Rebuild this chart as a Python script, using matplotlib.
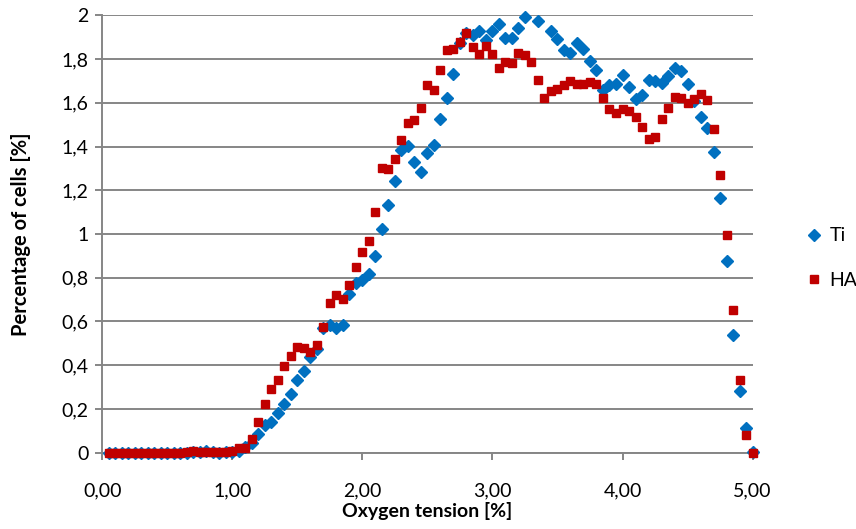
import numpy as np
import matplotlib.pyplot as plt
from matplotlib.ticker import FuncFormatter

# oxygen tension [%], sampled every 0.05
oxygen = [0.05, 0.10, 0.15, 0.20, 0.25, 0.30, 0.35, 0.40, 0.45, 0.50,
          0.55, 0.60, 0.65, 0.70, 0.75, 0.80, 0.85, 0.90, 0.95, 1.00,
          1.05, 1.10, 1.15, 1.20, 1.25, 1.30, 1.35, 1.40, 1.45, 1.50,
          1.55, 1.60, 1.65, 1.70, 1.75, 1.80, 1.85, 1.90, 1.95, 2.00,
          2.05, 2.10, 2.15, 2.20, 2.25, 2.30, 2.35, 2.40, 2.45, 2.50,
          2.55, 2.60, 2.65, 2.70, 2.75, 2.80, 2.85, 2.90, 2.95, 3.00,
          3.05, 3.10, 3.15, 3.20, 3.25, 3.30, 3.35, 3.40, 3.45, 3.50,
          3.55, 3.60, 3.65, 3.70, 3.75, 3.80, 3.85, 3.90, 3.95, 4.00,
          4.05, 4.10, 4.15, 4.20, 4.25, 4.30, 4.35, 4.40, 4.45, 4.50,
          4.55, 4.60, 4.65, 4.70, 4.75, 4.80, 4.85, 4.90, 4.95, 5.00]

# percentage of cells [%]  (Ti values above 2 are off the axis, as in the original)
ti = [0, 0, 0, 0, 0, 0, 0, 0, 0, 0,
      0, 0, 0, 0.003, 0.005, 0.01, 0.003, 0, 0.002, 0.005,
      0.01, 0.025, 0.043, 0.087, 0.125, 0.142, 0.18, 0.223, 0.27, 0.332,
      0.375, 0.436, 0.473, 0.572, 0.584, 0.569, 0.584, 0.727, 0.775, 0.79,
      0.819, 0.90, 1.023, 1.134, 1.241, 1.386, 1.403, 1.328, 1.284, 1.369,
      1.408, 1.526, 1.62, 1.73, 1.872, 1.92, 1.91, 1.927, 1.887, 1.927,
      1.962, 1.894, 1.895, 1.94, 1.991, 2.05, 1.974, 2.04, 1.928, 1.892,
      1.841, 1.829, 1.872, 1.846, 1.79, 1.75, 1.658, 1.68, 1.684, 1.727,
      1.671, 1.617, 1.636, 1.704, 1.701, 1.689, 1.724, 1.758, 1.745, 1.684,
      1.61, 1.533, 1.483, 1.376, 1.163, 0.878, 0.537, 0.284, 0.114, 0.005]

ha = [0, 0, 0, 0, 0, 0, 0, 0, 0, 0,
      0, 0, 0.005, 0.01, 0.005, 0.003, 0.003, 0.003, 0.005, 0.01,
      0.023, 0.023, 0.063, 0.14, 0.223, 0.291, 0.332, 0.396, 0.442, 0.483,
      0.479, 0.46, 0.492, 0.575, 0.685, 0.722, 0.703, 0.768, 0.849, 0.918,
      0.969, 1.102, 1.302, 1.296, 1.343, 1.43, 1.508, 1.521, 1.578, 1.683,
      1.658, 1.75, 1.843, 1.847, 1.878, 1.919, 1.855, 1.822, 1.86, 1.823,
      1.757, 1.788, 1.783, 1.829, 1.817, 1.785, 1.704, 1.62, 1.655, 1.664,
      1.68, 1.698, 1.687, 1.687, 1.696, 1.686, 1.62, 1.573, 1.553, 1.571,
      1.562, 1.535, 1.488, 1.433, 1.445, 1.524, 1.575, 1.625, 1.624, 1.598,
      1.617, 1.639, 1.611, 1.48, 1.271, 0.995, 0.654, 0.332, 0.079, 0]

plt.rcParams['font.family'] = ['Lato', 'DejaVu Sans']

fig = plt.figure(figsize=(8.56, 5.29), dpi=100)
ax = fig.add_axes([0.1197, 0.1442, 0.7594, 0.8269])

grid_col = '#868686'
y_max = 2

# like the spreadsheet, points above the axis maximum are simply not drawn
ti_shown = np.where(np.array(ti) > y_max, np.nan, ti)
ha_shown = np.where(np.array(ha) > y_max, np.nan, ha)

ax.plot(oxygen, ti_shown, linestyle='none', marker='D', markersize=6.2,
        color='#0070C0', label='Ti', zorder=3, clip_on=False)
ax.plot(oxygen, ha_shown, linestyle='none', marker='s', markersize=5.6,
        color='#C00000', label='HA', zorder=4, clip_on=False)

ax.set_xlim(0, 5)
ax.set_ylim(0, y_max)
ax.set_xticks([0, 1, 2, 3, 4, 5])
ax.set_yticks(np.arange(0, 2.01, 0.2))
ax.xaxis.set_major_formatter(FuncFormatter(lambda v, p: f'{v:.2f}'.replace('.', ',')))
ax.yaxis.set_major_formatter(FuncFormatter(lambda v, p: f'{v:.1f}'.rstrip('0').rstrip('.').replace('.', ',')))

ax.grid(axis='y', color=grid_col, linewidth=1.4, zorder=0)
ax.set_axisbelow(True)
for side in ['top', 'right']:
    ax.spines[side].set_visible(False)
for side in ['left', 'bottom']:
    ax.spines[side].set_color(grid_col)
    ax.spines[side].set_linewidth(1.4)

ax.tick_params(axis='x', length=5, width=1.4, color=grid_col, pad=16, labelsize=14)
ax.tick_params(axis='y', length=5, width=1.4, color=grid_col, pad=5, labelsize=14)

ax.set_xlabel('Oxygen tension [%]', fontsize=14, fontweight='bold', labelpad=2)
ax.set_ylabel('Percentage of cells [%]', fontsize=14.5, fontweight='bold', labelpad=22)

ax.legend(loc='center left', bbox_to_anchor=(1.05, 0.445), frameon=False,
          fontsize=14, labelspacing=1.4, handletextpad=0.2, handlelength=1.2)

plt.savefig('out.png', dpi=100)
